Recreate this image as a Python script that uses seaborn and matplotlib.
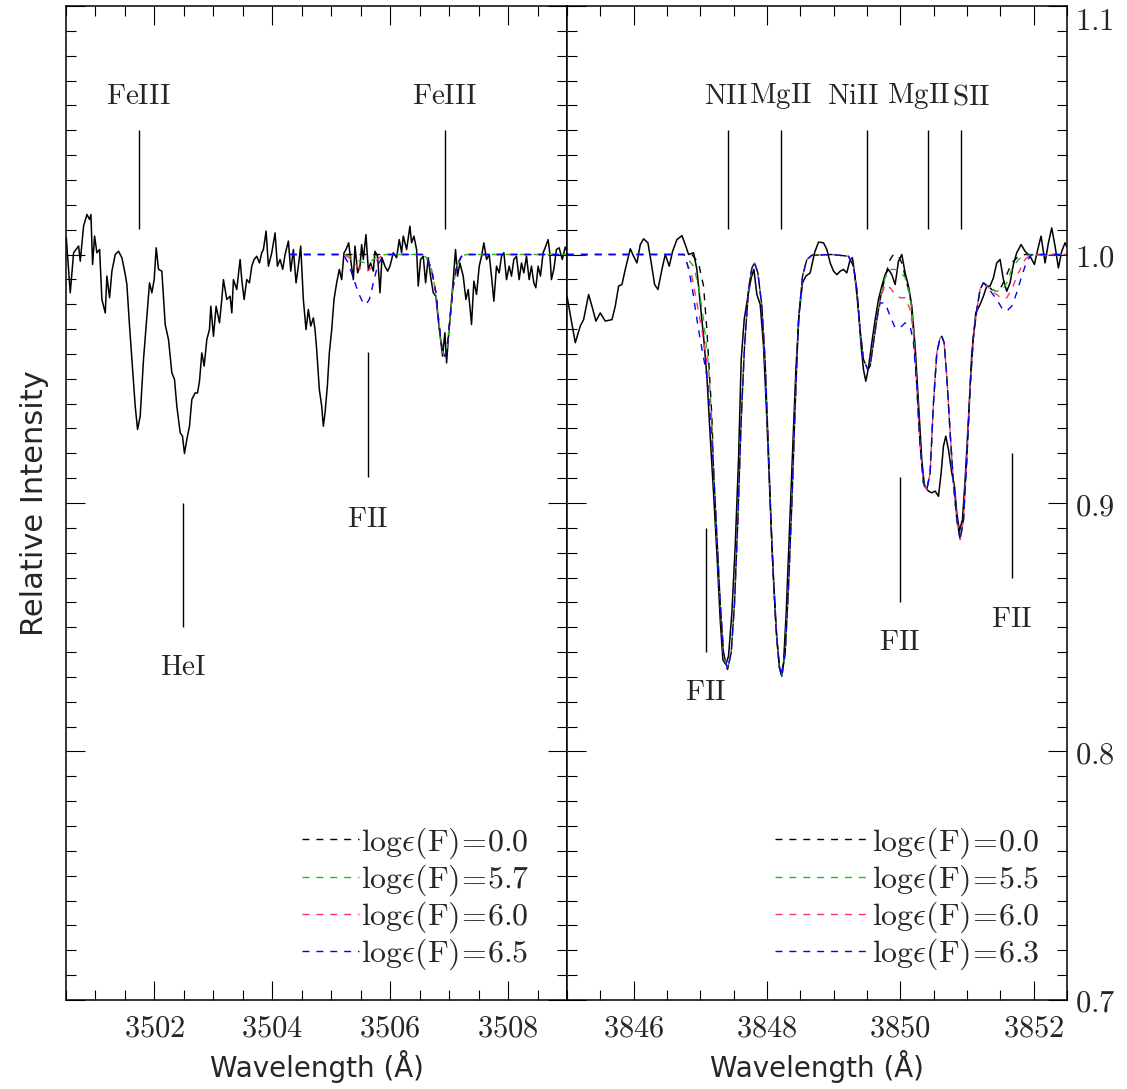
import numpy as np
import pandas as pd
import matplotlib
matplotlib.use("Agg")
import matplotlib.pyplot as plt
from matplotlib.lines import Line2D
from matplotlib.ticker import MultipleLocator, FuncFormatter, FixedLocator
import seaborn as sns

# ---------------- data: left panel (3500-3509 A) ----------------
left_obs_wl = [3500.505, 3500.572, 3500.629, 3500.714, 3500.742, 3500.798, 3500.855, 3500.900, 3500.923, 3500.951,
               3500.985, 3501.024, 3501.070, 3501.109, 3501.166, 3501.194, 3501.239, 3501.279, 3501.335, 3501.392,
               3501.448, 3501.505, 3501.533, 3501.578, 3501.635, 3501.674, 3501.714, 3501.759, 3501.815, 3501.872,
               3501.917, 3501.957, 3501.996, 3502.030, 3502.070, 3502.126, 3502.183, 3502.239, 3502.296, 3502.341,
               3502.380, 3502.437, 3502.476, 3502.510, 3502.550, 3502.595, 3502.635, 3502.691, 3502.731, 3502.765,
               3502.804, 3502.844, 3502.889, 3502.934, 3502.957, 3503.002, 3503.047, 3503.104, 3503.143, 3503.171,
               3503.228, 3503.284, 3503.313, 3503.341, 3503.397, 3503.454, 3503.482, 3503.522, 3503.567, 3503.612,
               3503.652, 3503.691, 3503.736, 3503.782, 3503.821, 3503.849, 3503.895, 3503.934, 3503.991, 3504.047,
               3504.087, 3504.132, 3504.177, 3504.217, 3504.273, 3504.313, 3504.358, 3504.403, 3504.442, 3504.482,
               3504.527, 3504.572, 3504.612, 3504.652, 3504.697, 3504.725, 3504.753, 3504.798, 3504.838, 3504.866,
               3504.895, 3504.934, 3504.968, 3505.008, 3505.047, 3505.092, 3505.137, 3505.177, 3505.217, 3505.250,
               3505.296, 3505.329, 3505.375, 3505.403, 3505.448, 3505.488, 3505.516, 3505.544, 3505.589, 3505.629,
               3505.668, 3505.714, 3505.742, 3505.787, 3505.827, 3505.861, 3505.911, 3505.957, 3505.996, 3506.053,
               3506.109, 3506.154, 3506.194, 3506.222, 3506.279, 3506.335, 3506.363, 3506.403, 3506.448, 3506.476,
               3506.516, 3506.561, 3506.601, 3506.646, 3506.685, 3506.731, 3506.776, 3506.815, 3506.855, 3506.889,
               3506.928, 3506.957, 3506.985, 3507.024, 3507.070, 3507.109, 3507.143, 3507.183, 3507.239, 3507.285,
               3507.324, 3507.363, 3507.380, 3507.420, 3507.465, 3507.511, 3507.550, 3507.589, 3507.635, 3507.680,
               3507.719, 3507.759, 3507.804, 3507.849, 3507.889, 3507.929, 3507.974, 3508.019, 3508.058, 3508.098,
               3508.143, 3508.188, 3508.228, 3508.267, 3508.313, 3508.358, 3508.397, 3508.437, 3508.471, 3508.510,
               3508.550, 3508.595, 3508.640, 3508.680, 3508.708, 3508.736, 3508.776, 3508.821, 3508.866, 3508.920,
               3508.970, 3509.000]
left_obs_int = [1.0067, 0.9846, 1.0007, 1.0034, 0.9973, 1.0114, 1.0161, 1.0141, 1.0161, 0.9960,
                1.0074, 1.0007, 1.0020, 0.9819, 0.9765, 0.9913, 0.9826, 0.9933, 1.0000, 1.0013,
                0.9987, 0.9920, 0.9879, 0.9712, 0.9524, 0.9390, 0.9296, 0.9350, 0.9578, 0.9752,
                0.9886, 0.9846, 0.9899, 1.0027, 0.9940, 0.9933, 0.9718, 0.9658, 0.9524, 0.9497,
                0.9390, 0.9283, 0.9269, 0.9199, 0.9256, 0.9309, 0.9417, 0.9443, 0.9443, 0.9490,
                0.9604, 0.9551, 0.9658, 0.9698, 0.9792, 0.9671, 0.9792, 0.9725, 0.9819, 0.9899,
                0.9819, 0.9832, 0.9765, 0.9899, 0.9859, 0.9980, 0.9899, 0.9819, 0.9899, 0.9886,
                0.9953, 0.9980, 0.9993, 0.9966, 1.0007, 1.0020, 1.0094, 0.9953, 1.0007, 1.0087,
                0.9953, 0.9980, 0.9940, 1.0000, 1.0054, 0.9933, 1.0020, 0.9886, 0.9953, 1.0034,
                0.9819, 0.9698, 0.9779, 0.9712, 0.9745, 0.9698, 0.9618, 0.9457, 0.9390, 0.9309,
                0.9363, 0.9470, 0.9604, 0.9698, 0.9819, 0.9886, 0.9940, 0.9899, 1.0007, 1.0020,
                1.0047, 0.9980, 0.9899, 1.0034, 0.9926, 0.9953, 1.0040, 0.9980, 1.0080, 0.9940,
                0.9966, 0.9933, 1.0013, 0.9993, 0.9846, 0.9987, 0.9953, 0.9933, 0.9953, 1.0007,
                0.9987, 1.0060, 1.0007, 1.0074, 1.0020, 1.0114, 1.0047, 1.0074, 1.0020, 0.9873,
                0.9980, 0.9993, 0.9886, 0.9987, 0.9913, 0.9846, 0.9832, 0.9739, 0.9658, 0.9591,
                0.9685, 0.9564, 0.9658, 0.9765, 0.9899, 1.0020, 0.9913, 0.9966, 0.9913, 0.9819,
                0.9859, 0.9765, 0.9718, 0.9893, 0.9839, 0.9953, 0.9993, 1.0047, 0.9980, 1.0000,
                0.9913, 0.9812, 0.9953, 0.9926, 0.9993, 1.0007, 0.9899, 0.9953, 0.9913, 0.9980,
                0.9993, 0.9899, 0.9966, 0.9926, 0.9993, 0.9899, 0.9953, 0.9886, 0.9866, 0.9953,
                0.9913, 1.0007, 1.0034, 1.0060, 1.0007, 0.9899, 0.9940, 1.0020, 1.0027, 0.9980,
                1.0030, 1.0010]

# synthetic spectra (left): shared pieces + F II 3505.6 dip per abundance
left_cont_wl = [3504.30, 3505.205]
left_cont_int = [1.0, 1.0]
left_fdip_wl = [3505.290, 3505.375, 3505.460, 3505.544, 3505.589, 3505.646, 3505.702, 3505.770, 3505.855, 3505.940]
left_fdip_int = {
    "0.0": [1.0, 1.0, 1.0, 1.0, 1.0, 1.0, 1.0, 1.0, 1.0, 1.0],
    "5.7": [0.9995, 0.9985, 0.9975, 0.9968, 0.9966, 0.9969, 0.9978, 0.9990, 0.9998, 1.0],
    "6.0": [0.9990, 0.9970, 0.9948, 0.9935, 0.9932, 0.9938, 0.9955, 0.9978, 0.9995, 1.0],
    "6.5": [0.9966, 0.9906, 0.9846, 0.9803, 0.9799, 0.9819, 0.9873, 0.9940, 0.9987, 1.0],
}
left_fe_wl = [3506.550, 3506.618, 3506.702, 3506.776, 3506.832, 3506.889, 3506.928, 3506.968, 3507.013,
              3507.070, 3507.126, 3507.211, 3507.295, 3509.000]
left_fe_int = [1.0, 0.9987, 0.9940, 0.9846, 0.9712, 0.9604, 0.9591, 0.9631, 0.9738,
               0.9872, 0.9953, 0.9993, 1.0, 1.0]
left_abund = ["0.0", "5.7", "6.0", "6.5"]

# ---------------- data: right panel (3845-3852.5 A) ----------------
right_obs_wl = [3845.000, 3845.124, 3845.199, 3845.249, 3845.324, 3845.374, 3845.434, 3845.499, 3845.574, 3845.674,
                3845.724, 3845.774, 3845.824, 3845.874, 3845.949, 3845.999, 3846.049, 3846.099, 3846.149, 3846.214,
                3846.264, 3846.314, 3846.364, 3846.424, 3846.474, 3846.534, 3846.584, 3846.649, 3846.724, 3846.774,
                3846.824, 3846.899, 3846.948, 3846.998, 3847.048, 3847.098, 3847.148, 3847.198, 3847.248, 3847.298,
                3847.338, 3847.383, 3847.423, 3847.473, 3847.523, 3847.573, 3847.613, 3847.658, 3847.713, 3847.763,
                3847.803, 3847.848, 3847.898, 3847.948, 3847.998, 3848.048, 3848.098, 3848.148, 3848.188, 3848.213,
                3848.248, 3848.288, 3848.333, 3848.383, 3848.433, 3848.483, 3848.533, 3848.583, 3848.648, 3848.713,
                3848.773, 3848.848, 3848.898, 3848.948, 3848.998, 3849.048, 3849.098, 3849.148, 3849.197, 3849.247,
                3849.282, 3849.322, 3849.372, 3849.412, 3849.447, 3849.482, 3849.522, 3849.572, 3849.622, 3849.672,
                3849.722, 3849.772, 3849.822, 3849.872, 3849.922, 3849.972, 3850.022, 3850.072, 3850.122, 3850.172,
                3850.222, 3850.272, 3850.322, 3850.362, 3850.422, 3850.472, 3850.522, 3850.572, 3850.612, 3850.647,
                3850.682, 3850.722, 3850.772, 3850.812, 3850.847, 3850.887, 3850.932, 3850.972, 3851.022, 3851.072,
                3851.132, 3851.196, 3851.246, 3851.296, 3851.346, 3851.396, 3851.446, 3851.496, 3851.546, 3851.596,
                3851.646, 3851.696, 3851.746, 3851.811, 3851.871, 3851.946, 3852.011, 3852.061, 3852.111, 3852.171,
                3852.221, 3852.271, 3852.321, 3852.371, 3852.421, 3852.471, 3852.500]
right_obs_int = [0.9832, 0.9645, 0.9712, 0.9738, 0.9839, 0.9792, 0.9732, 0.9765, 0.9732, 0.9738,
                 0.9792, 0.9873, 0.9879, 0.9940, 1.0023, 0.9993, 0.9966, 1.0040, 1.0063, 1.0047,
                 0.9966, 0.9879, 0.9859, 0.9940, 1.0000, 0.9953, 1.0013, 1.0060, 1.0076, 1.0040,
                 1.0000, 1.0007, 0.9940, 0.9805, 0.9671, 0.9510, 0.9269, 0.9041, 0.8799, 0.8531,
                 0.8370, 0.8350, 0.8384, 0.8558, 0.8826, 0.9175, 0.9578, 0.9738, 0.9832, 0.9906,
                 0.9940, 0.9839, 0.9799, 0.9631, 0.9336, 0.9001, 0.8692, 0.8451, 0.8337, 0.8310,
                 0.8357, 0.8558, 0.8867, 0.9202, 0.9537, 0.9765, 0.9886, 0.9913, 0.9926, 1.0007,
                 1.0050, 1.0047, 1.0020, 0.9966, 0.9933, 0.9919, 0.9933, 0.9940, 0.9926, 0.9980,
                 0.9987, 0.9906, 0.9772, 0.9631, 0.9537, 0.9490, 0.9544, 0.9645, 0.9738, 0.9819,
                 0.9873, 0.9919, 0.9940, 0.9919, 0.9879, 0.9973, 1.0000, 0.9926, 0.9873, 0.9792,
                 0.9631, 0.9403, 0.9175, 0.9068, 0.9048, 0.9041, 0.9048, 0.9027, 0.9121, 0.9229,
                 0.9269, 0.9215, 0.9121, 0.9068, 0.8960, 0.8887, 0.8934, 0.9095, 0.9336, 0.9604,
                 0.9765, 0.9799, 0.9832, 0.9873, 0.9873, 0.9906, 0.9966, 0.9980, 0.9899, 0.9852,
                 0.9886, 0.9960, 1.0007, 1.0040, 1.0013, 0.9993, 0.9960, 1.0020, 1.0074, 0.9966,
                 1.0047, 1.0107, 1.0033, 0.9946, 1.0013, 1.0047, 1.0030]

right_abund = ["0.0", "5.5", "6.0", "6.3"]
right_start_wl = [3845.0, 3846.75]
right_start_int = [1.0, 1.0]
right_wing_wl = {
    "0.0": [3846.874, 3846.973, 3847.048, 3847.098, 3847.133, 3847.173],
    "5.5": [3846.798, 3846.898, 3846.973, 3847.048, 3847.123, 3847.173],
    "6.0": [3846.784, 3846.864, 3846.948, 3847.023, 3847.098, 3847.148, 3847.173],
    "6.3": [3846.774, 3846.824, 3846.874, 3846.934, 3846.998, 3847.063, 3847.098, 3847.133, 3847.173],
}
right_wing_int = {
    "0.0": [1.0, 0.9966, 0.9873, 0.9698, 0.9537, 0.9350],
    "5.5": [0.9987, 0.9953, 0.9873, 0.9738, 0.9551, 0.9330],
    "6.0": [0.9973, 0.9926, 0.9805, 0.9698, 0.9564, 0.9376, 0.9300],
    "6.3": [0.9993, 0.9940, 0.9873, 0.9765, 0.9658, 0.9564, 0.9510, 0.9390, 0.9250],
}
right_core1_wl = [3847.198, 3847.248, 3847.298, 3847.348, 3847.408, 3847.463, 3847.513, 3847.563, 3847.613,
                  3847.663, 3847.723, 3847.773, 3847.813, 3847.863, 3847.923, 3847.973, 3848.023, 3848.073,
                  3848.133, 3848.183, 3848.223, 3848.273, 3848.323, 3848.373, 3848.423, 3848.473, 3848.533,
                  3848.598, 3848.673, 3848.973, 3849.222, 3849.297, 3849.347, 3849.397, 3849.447, 3849.512,
                  3849.547, 3849.597, 3849.647]
right_core1_int = [0.9135, 0.8867, 0.8598, 0.8397, 0.8330, 0.8397, 0.8598, 0.8934, 0.9336,
                   0.9631, 0.9859, 0.9946, 0.9966, 0.9926, 0.9792, 0.9564, 0.9202, 0.8826,
                   0.8504, 0.8343, 0.8303, 0.8397, 0.8665, 0.9001, 0.9390, 0.9738, 0.9913,
                   0.9980, 0.9997, 1.0, 0.9993, 0.9953, 0.9859, 0.9698, 0.9578, 0.9537,
                   0.9551, 0.9645, 0.9738]
right_f2_wl = {
    "0.0": [3849.697, 3849.772, 3849.847, 3849.897, 3849.972, 3850.022, 3850.072, 3850.147, 3850.197],
    "5.5": [3849.697, 3849.772, 3849.847, 3849.922, 3849.997, 3850.072, 3850.147, 3850.197],
    "6.0": [3849.697, 3849.772, 3849.847, 3849.922, 3849.997, 3850.072, 3850.147, 3850.197],
    "6.3": [3849.697, 3849.772, 3849.847, 3849.922, 3849.997, 3850.072, 3850.147, 3850.197],
}
right_f2_int = {
    "0.0": [0.9819, 0.9913, 0.9980, 1.0, 0.9993, 0.9966, 0.9913, 0.9832, 0.9698],
    "5.5": [0.9819, 0.9906, 0.9940, 0.9940, 0.9933, 0.9906, 0.9832, 0.9712],
    "6.0": [0.9819, 0.9879, 0.9866, 0.9839, 0.9826, 0.9826, 0.9779, 0.9685],
    "6.3": [0.9805, 0.9805, 0.9752, 0.9705, 0.9705, 0.9725, 0.9712, 0.9645],
}
right_core2_wl = [3850.247, 3850.297, 3850.347, 3850.397, 3850.447, 3850.497, 3850.547, 3850.597, 3850.622,
                  3850.657, 3850.697, 3850.747, 3850.797, 3850.847, 3850.897, 3850.947, 3850.997, 3851.047,
                  3851.097, 3851.147, 3851.196, 3851.246]
right_core2_int = [0.9470, 0.9229, 0.9081, 0.9054, 0.9121, 0.9403, 0.9604, 0.9665, 0.9671,
                   0.9645, 0.9510, 0.9282, 0.9081, 0.8933, 0.8853, 0.8933, 0.9175, 0.9470,
                   0.9671, 0.9779, 0.9859, 0.9886]
right_f3_wl = {
    "0.0": [3851.296, 3851.371, 3851.446, 3851.521, 3851.596, 3851.671, 3851.771, 3851.871, 3852.5],
    "5.5": [3851.296, 3851.371, 3851.446, 3851.521, 3851.596, 3851.671, 3851.771, 3851.871, 3852.5],
    "6.0": [3851.296, 3851.371, 3851.446, 3851.521, 3851.596, 3851.671, 3851.771, 3851.871, 3851.946, 3852.5],
    "6.3": [3851.296, 3851.371, 3851.446, 3851.521, 3851.596, 3851.671, 3851.746, 3851.821, 3851.896, 3851.971, 3852.5],
}
right_f3_int = {
    "0.0": [0.9879, 0.9859, 0.9852, 0.9873, 0.9919, 0.9966, 0.9993, 1.0, 1.0],
    "5.5": [0.9879, 0.9859, 0.9852, 0.9852, 0.9886, 0.9940, 0.9980, 0.9997, 1.0],
    "6.0": [0.9873, 0.9852, 0.9839, 0.9822, 0.9826, 0.9859, 0.9926, 0.9980, 0.9997, 1.0],
    "6.3": [0.9873, 0.9846, 0.9819, 0.9785, 0.9772, 0.9792, 0.9846, 0.9913, 0.9973, 1.0, 1.0],
}

# line identifications
left_top_ids = ["FeIII", "FeIII"]
left_top_wl = [3501.74, 3506.93]
left_top_text_wl = [3501.72, 3506.92]
left_low_ids = ["HeI", "FII"]
left_low_wl = [3502.49, 3505.62]
left_low_top = [0.9002, 0.9606]
left_low_bot = [0.8503, 0.9103]
left_low_text = [0.8342, 0.8934]

right_top_ids = ["NII", "MgII", "NiII", "MgII", "SII"]
right_top_wl = [3847.41, 3848.21, 3849.50, 3850.41, 3850.91]
right_top_text_wl = [3847.39, 3848.20, 3849.29, 3850.27, 3851.06]
right_low_ids = ["FII", "FII", "FII"]
right_low_wl = [3847.08, 3849.99, 3851.67]
right_low_top = [0.8901, 0.9103, 0.9203]
right_low_bot = [0.8402, 0.8600, 0.8700]
right_low_text = [0.8241, 0.8439, 0.8535]
top_mark = (1.0101, 1.0503)
top_text_y = 1.0636

y_ticks = [0.7, 0.8, 0.9, 1.0, 1.1]
colors = ["black", "#22bb22", "#ff3366", "#0000ff"]

# ---------------- style ----------------
sns.set_style("ticks")
plt.rcParams["mathtext.fontset"] = "cm"
plt.rcParams["font.family"] = ["DejaVu Serif"]
plt.rcParams["axes.linewidth"] = 1.1
LABEL_FAMILY = ["Liberation Sans Narrow", "DejaVu Sans"]

W, H = 1127, 1089
fig = plt.figure(figsize=(W / 100, H / 100), dpi=100)
bot = 1 - 1000 / H
hgt = 994 / H
ax1 = fig.add_axes([66 / W, bot, 501 / W, hgt])
ax2 = fig.add_axes([567 / W, bot, 500 / W, hgt])

DASH = (0, (5, 5))


def draw_model(ax, wl, it, color):
    sns.lineplot(x=wl, y=it, ax=ax, color=color, lw=1.0, linestyle=DASH,
                 estimator=None, sort=False, legend=False)


# left panel
sns.lineplot(x=left_obs_wl, y=left_obs_int, ax=ax1, color="black", lw=1.1,
             estimator=None, sort=False, legend=False)
for ab, c in zip(left_abund, colors):
    wl = left_cont_wl + left_fdip_wl + left_fe_wl
    it = left_cont_int + left_fdip_int[ab] + left_fe_int
    draw_model(ax1, wl, it, c)

# right panel
sns.lineplot(x=right_obs_wl, y=right_obs_int, ax=ax2, color="black", lw=1.1,
             estimator=None, sort=False, legend=False)
for ab, c in zip(right_abund, colors):
    wl = right_start_wl + right_wing_wl[ab] + right_core1_wl + right_f2_wl[ab] + right_core2_wl + right_f3_wl[ab]
    it = right_start_int + right_wing_int[ab] + right_core1_int + right_f2_int[ab] + right_core2_int + right_f3_int[ab]
    draw_model(ax2, wl, it, c)

TXT = 21
TICK = 22
LEG = 23
# identifications
for lab, wl, twl in zip(left_top_ids, left_top_wl, left_top_text_wl):
    ax1.vlines(wl, top_mark[0], top_mark[1], color="black", lw=1.0)
    ax1.text(twl, top_text_y, rf"$\mathrm{{{lab}}}$", ha="center", va="center", fontsize=TXT)
for lab, wl, t, b, ty in zip(left_low_ids, left_low_wl, left_low_top, left_low_bot, left_low_text):
    ax1.vlines(wl, b, t, color="black", lw=1.0)
    ax1.text(wl, ty, rf"$\mathrm{{{lab}}}$", ha="center", va="center", fontsize=TXT)
for lab, wl, twl in zip(right_top_ids, right_top_wl, right_top_text_wl):
    ax2.vlines(wl, top_mark[0], top_mark[1], color="black", lw=1.0)
    ax2.text(twl, top_text_y, rf"$\mathrm{{{lab}}}$", ha="center", va="center", fontsize=TXT)
for lab, wl, t, b, ty in zip(right_low_ids, right_low_wl, right_low_top, right_low_bot, right_low_text):
    ax2.vlines(wl, b, t, color="black", lw=1.0)
    ax2.text(wl, ty, rf"$\mathrm{{{lab}}}$", ha="center", va="center", fontsize=TXT)

# axes setup
ax1.set_xlim(3500.5, 3509.0)
ax2.set_xlim(3845.0, 3852.5)
for ax in (ax1, ax2):
    ax.set_ylim(0.7, 1.1)
    ax.xaxis.set_major_locator(MultipleLocator(2))
    ax.xaxis.set_minor_locator(MultipleLocator(0.5))
    ax.yaxis.set_major_locator(FixedLocator(y_ticks))
    ax.yaxis.set_minor_locator(MultipleLocator(0.01))
    ax.tick_params(which="both", direction="in", top=True, bottom=True, left=True, right=True,
                   width=0.8, color="black")
    ax.tick_params(which="major", length=14)
    ax.tick_params(which="minor", length=7)
    ax.tick_params(axis="x", labelsize=TICK, pad=9)
    ax.xaxis.set_major_formatter(FuncFormatter(lambda v, p: rf"${v:.0f}$"))
    ax.set_xlabel("Wavelength (Å)", family=LABEL_FAMILY, fontsize=20, va="center")
    ax.xaxis.set_label_coords(0.5, -0.067)
    for s in ax.spines.values():
        s.set_color("black")
ax1.tick_params(axis="y", labelleft=False, labelright=False)
ax2.tick_params(axis="y", labelleft=False, labelright=True, labelsize=TICK, pad=6)
ax2.yaxis.set_major_formatter(FuncFormatter(lambda v, p: rf"${v:.1f}$"))
ax1.set_ylabel("Relative Intensity", family=LABEL_FAMILY, fontsize=22, va="center")
ax1.yaxis.set_label_coords(-0.062, 0.5)

# legends
def add_legend(ax, abunds, x_anchor, hlen):
    handles = [Line2D([], [], color=c, lw=1.0, linestyle=DASH) for c in colors]
    labels = [rf"$\mathrm{{log}}\epsilon(\mathrm{{F}})\!=\!{a}$" for a in abunds]
    ax.legend(handles, labels, loc="lower right", bbox_to_anchor=(x_anchor, 0.028),
              frameon=False, fontsize=LEG, handlelength=hlen, handletextpad=0.05,
              labelspacing=0.05, borderaxespad=0, borderpad=0)

add_legend(ax1, left_abund, 0.925, 1.8)
add_legend(ax2, right_abund, 0.946, 3.0)

fig.canvas.draw()
labs = ax2.get_yticklabels()
for lab in labs:
    if lab.get_text() == r"$1.1$":
        lab.set_va("top")

fig.savefig("out.png", dpi=100)
